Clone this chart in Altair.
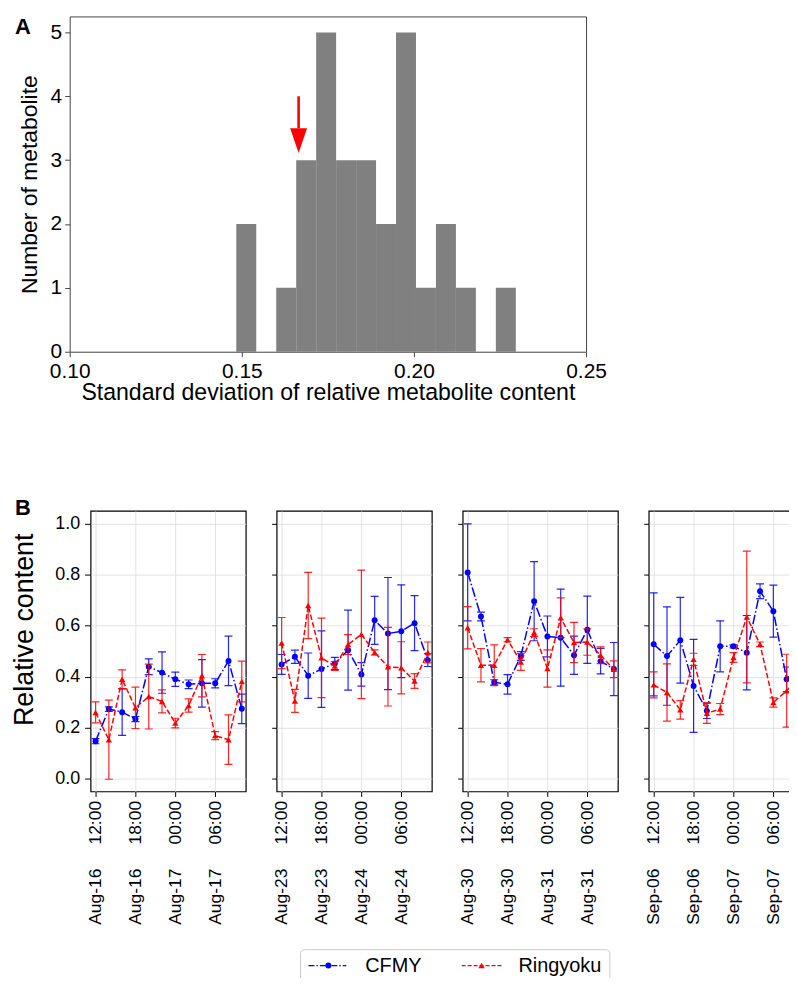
import altair as alt
import pandas as pd

# ---------------- Panel A : histogram ----------------
bin_lo = [0.1484, 0.1542, 0.1600, 0.1658, 0.1716, 0.1774, 0.1832,
          0.1890, 0.1948, 0.2006, 0.2064, 0.2122, 0.2180, 0.2238]
bin_hi = [0.1542, 0.1600, 0.1658, 0.1716, 0.1774, 0.1832, 0.1890,
          0.1948, 0.2006, 0.2064, 0.2122, 0.2180, 0.2238, 0.2296]
bin_count = [2, 0, 1, 3, 5, 3, 3, 2, 5, 1, 2, 1, 0, 1]
x_ticks_a = [0.10, 0.15, 0.20, 0.25]
y_ticks_a = [0, 1, 2, 3, 4, 5]

arrow_x = 0.1665
arrow_tail = 4.0
arrow_head_top = 3.50
arrow_tip = 3.11

# ---------------- Panel B : time series ----------------
series_names = ["CFMY", "Ringyoku"]
start_days = [(2019, 8, 16), (2019, 8, 23), (2019, 8, 30), (2019, 9, 6)]
slot_hours = [12, 14, 16, 18, 20, 22, 0, 2, 4, 6, 8, 10]
slot_day = [0, 0, 0, 0, 0, 0, 1, 1, 1, 1, 1, 1]
y_ticks_b = [0.0, 0.2, 0.4, 0.6, 0.8, 1.0]

cfmy_mean = [
    [0.147, 0.273, 0.261, 0.234, 0.439, 0.416, 0.390, 0.370, 0.374, 0.374, 0.462, 0.274],
    [0.448, 0.478, 0.404, 0.430, 0.452, 0.504, 0.409, 0.621, 0.569, 0.578, 0.610, 0.465],
    [0.809, 0.636, 0.378, 0.370, 0.481, 0.696, 0.558, 0.553, 0.484, 0.584, 0.461, 0.430],
    [0.527, 0.481, 0.543, 0.364, 0.266, 0.519, 0.519, 0.494, 0.735, 0.657, 0.390, 0.450],
]
cfmy_err = [
    [0.010, 0.009, 0.091, 0.010, 0.031, 0.081, 0.028, 0.017, 0.093, 0.018, 0.097, 0.058],
    [0.039, 0.026, 0.089, 0.150, 0.024, 0.157, 0.046, 0.094, 0.220, 0.182, 0.108, 0.025],
    [0.190, 0.017, 0.010, 0.038, 0.017, 0.155, 0.080, 0.190, 0.075, 0.132, 0.050, 0.104],
    [0.202, 0.193, 0.168, 0.182, 0.030, 0.100, 0.006, 0.146, 0.029, 0.102, 0.048, 0.080],
]
ring_mean = [
    [0.260, 0.153, 0.390, 0.278, 0.322, 0.303, 0.218, 0.287, 0.404, 0.169, 0.153, 0.381],
    [0.532, 0.305, 0.679, 0.474, 0.442, 0.526, 0.566, 0.495, 0.439, 0.435, 0.383, 0.495],
    [0.592, 0.445, 0.445, 0.545, 0.458, 0.573, 0.432, 0.631, 0.534, 0.536, 0.484, 0.429],
    [0.368, 0.338, 0.270, 0.468, 0.257, 0.273, 0.475, 0.634, 0.527, 0.299, 0.345, 0.400],
]
ring_err = [
    [0.041, 0.155, 0.037, 0.081, 0.127, 0.045, 0.019, 0.026, 0.083, 0.016, 0.097, 0.080],
    [0.100, 0.045, 0.130, 0.156, 0.017, 0.039, 0.252, 0.010, 0.154, 0.102, 0.029, 0.041],
    [0.083, 0.065, 0.080, 0.008, 0.033, 0.015, 0.073, 0.078, 0.079, 0.052, 0.033, 0.033],
    [0.051, 0.112, 0.036, 0.024, 0.040, 0.022, 0.019, 0.258, 0.009, 0.018, 0.143, 0.080],
]

FONT = "Liberation Sans"
BLUE = "#0000ff"
RED = "#ff0000"

# ================= Panel A =================
hist_df = pd.DataFrame({"lo": bin_lo, "hi": bin_hi, "count": bin_count})
hist_df = hist_df[hist_df["count"] > 0]

xa_scale = alt.Scale(domain=[0.10, 0.25], nice=False, zero=False)
ya_scale = alt.Scale(domain=[0, 5.25], nice=False)
xa_axis = alt.Axis(values=x_ticks_a, format=".2f", labelFontSize=21, tickSize=5,
                   labelPadding=4, title="Standard deviation of relative metabolite content",
                   titleFontSize=23.2, titleFontWeight="normal", titlePadding=0,
                   grid=False, domain=False, labelFlush=False, tickColor="#444444")
ya_axis = alt.Axis(values=y_ticks_a, format="d", labelFontSize=21, tickSize=5,
                   labelPadding=3, title="Number of metabolite", titleFontSize=23,
                   titleFontWeight="normal", titlePadding=9, grid=False, domain=False,
                   tickColor="#444444")

bars = alt.Chart(hist_df).mark_rect(color="#808080").encode(
    x=alt.X("lo:Q", scale=xa_scale, axis=xa_axis),
    x2="hi:Q",
    y=alt.Y("count:Q", scale=ya_scale, axis=ya_axis),
    y2=alt.datum(0),
)

arrow_df = pd.DataFrame({"x": [arrow_x], "tail": [arrow_tail], "htop": [arrow_head_top],
                         "tip": [arrow_tip]})
arrow_df["hmid"] = (arrow_df["htop"] + arrow_df["tip"]) / 2
shaft = alt.Chart(arrow_df).mark_rule(color=RED, strokeWidth=2.6).encode(
    x=alt.X("x:Q", scale=xa_scale, axis=xa_axis),
    y=alt.Y("tail:Q", scale=ya_scale, axis=ya_axis),
    y2=alt.Y2("htop:Q"),
)
head = alt.Chart(arrow_df).mark_point(
    shape="M-0.68,-1L0.68,-1L0,1Z", filled=True, size=625, color=RED, opacity=1
).encode(
    x=alt.X("x:Q", scale=xa_scale, axis=xa_axis),
    y=alt.Y("hmid:Q", scale=ya_scale, axis=ya_axis),
)
label_a = alt.Chart(alt.Data(values=[{"p": "A"}])).mark_text(
    align="left", baseline="alphabetic", fontSize=22, fontWeight="bold", color="black"
).encode(text="p:N", x=alt.value(-55), y=alt.value(18))

panel_a = alt.layer(bars, shaft, head, label_a).properties(
    width=519, height=337,
    view=alt.ViewBackground(stroke="#444444", strokeWidth=1),
)

# ================= Panel B =================
NB = "\u00a0" * 5
FMT = "%b-%d" + NB + "%H:%M"


def dt(ts):
    return alt.DateTime(year=ts.year, month=ts.month, date=ts.day,
                        hours=ts.hour, minutes=ts.minute)


def subplot(i):
    y0, m0, d0 = start_days[i]
    t0 = pd.Timestamp(y0, m0, d0)
    times = [(t0 + pd.Timedelta(days=o, hours=h)).strftime("%Y-%m-%dT%H:%M:%S")
             for o, h in zip(slot_day, slot_hours)]
    dom = [t0 + pd.Timedelta(hours=11, minutes=15),
           t0 + pd.Timedelta(days=1, hours=10, minutes=36)]
    ticks = [t0 + pd.Timedelta(hours=12), t0 + pd.Timedelta(hours=18),
             t0 + pd.Timedelta(days=1), t0 + pd.Timedelta(days=1, hours=6)]

    xscale = alt.Scale(domain=[dt(d) for d in dom], nice=False)
    yscale = alt.Scale(domain=[-0.05, 1.05], nice=False, zero=False)
    xaxis = alt.Axis(values=[dt(t) for t in ticks], format=FMT, labelAngle=-90,
                     labelFontSize=17.5, tickSize=5, labelPadding=4, grid=True,
                     gridColor="#dcdcdc", gridWidth=0.8, domain=False, title=None,
                     labelFlush=False, labelOverlap=False, tickColor="black",
                     labelColor="black")
    if i == 0:
        yaxis = alt.Axis(values=y_ticks_b, format=".1f", labelFontSize=18, tickSize=6,
                         labelPadding=5, title="Relative content", titleFontSize=27,
                         titleFontWeight="normal", titlePadding=16, titleY=119,
                         grid=True, gridColor="#dcdcdc", gridWidth=0.8, domain=False,
                         tickColor="black", labelColor="black")
    else:
        yaxis = alt.Axis(values=y_ticks_b, labels=False, tickSize=5, title=None,
                         grid=True, gridColor="#dcdcdc", gridWidth=0.8, domain=False,
                         tickColor="black")

    layers = []
    specs = [
        (series_names[0], cfmy_mean[i], cfmy_err[i], BLUE, "circle", 36, [9.6, 2.4, 1.5, 2.4]),
        (series_names[1], ring_mean[i], ring_err[i], RED, "triangle-up", 40, [5.5, 2.4]),
    ]
    for name, mean, err, color, shape, size, dash in specs:
        df = pd.DataFrame({"t": times, "mean": mean, "err": err})
        df["lo"] = df["mean"] - df["err"]
        df["hi"] = df["mean"] + df["err"]
        df["series"] = name
        base = alt.Chart(df)
        X = alt.X("t:T", scale=xscale, axis=xaxis)
        line = base.mark_line(color=color, strokeWidth=1.5, strokeDash=dash, clip=True).encode(
            x=X, y=alt.Y("mean:Q", scale=yscale, axis=yaxis))
        bar = base.mark_rule(color=color, strokeWidth=1.2, opacity=0.85, clip=True).encode(
            x=X, y=alt.Y("lo:Q", scale=yscale, axis=yaxis), y2="hi:Q")
        cap_lo = base.mark_rule(color=color, strokeWidth=1.2, opacity=0.85, clip=True,
                                xOffset=-4, x2Offset=4).encode(
            x=X, x2="t:T", y=alt.Y("lo:Q", scale=yscale, axis=yaxis))
        cap_hi = base.mark_rule(color=color, strokeWidth=1.2, opacity=0.85, clip=True,
                                xOffset=-4, x2Offset=4).encode(
            x=X, x2="t:T", y=alt.Y("hi:Q", scale=yscale, axis=yaxis))
        pts = base.mark_point(color=color, filled=True, shape=shape, size=size,
                              opacity=1, clip=True).encode(
            x=X, y=alt.Y("mean:Q", scale=yscale, axis=yaxis))
        layers += [line, bar, cap_lo, cap_hi, pts]

    if i == 0:
        layers.append(alt.Chart(alt.Data(values=[{"p": "B"}])).mark_text(
            align="left", baseline="alphabetic", fontSize=22, fontWeight="bold",
            color="black").encode(text="p:N", x=alt.value(-76), y=alt.value(4)))

    if i == 1:
        one = alt.Data(values=[{"k": 0}])
        box = alt.Chart(one).mark_rect(fill="white", stroke="#cccccc", strokeWidth=1,
                                       cornerRadius=4).encode(
            x=alt.value(24), x2=alt.value(335), y=alt.value(441), y2=alt.value(477))
        layers.append(box)
        leg = [
            (series_names[0], BLUE, "circle", 36, [6, 2, 1.5, 2], 32, 70, 52, 89),
            (series_names[1], RED, "triangle-up", 40, [4, 2], 186, 227, 206, 243),
        ]
        for name, color, shape, size, dash, x1, x2, xm, xt in leg:
            d = alt.Data(values=[{"series": name}])
            layers.append(alt.Chart(d).mark_rule(color=color, strokeWidth=1.3,
                                                 strokeDash=dash).encode(
                x=alt.value(x1), x2=alt.value(x2), y=alt.value(457)))
            layers.append(alt.Chart(d).mark_point(color=color, filled=True, shape=shape,
                                                  size=size, opacity=1).encode(
                x=alt.value(xm), y=alt.value(457)))
            layers.append(alt.Chart(d).mark_text(align="left", baseline="middle",
                                                 fontSize=20, color="black").encode(
                text="series:N", x=alt.value(xt), y=alt.value(457)))

    return alt.layer(*layers).properties(
        width=156, height=282,
        view=alt.ViewBackground(stroke="black", strokeWidth=1.2),
    )


inner_b = alt.hconcat(*[subplot(i) for i in range(4)], spacing=31, bounds="flush").resolve_scale(
    x="independent", y="independent")

spacer = alt.Chart(alt.Data(values=[{"k": 0}])).mark_point(opacity=0, size=1).encode(
    x=alt.value(0), y=alt.value(0)
).properties(width=1, height=282, view=alt.ViewBackground(stroke="transparent"))

panel_b = alt.hconcat(spacer, inner_b, spacing=20, bounds="flush")

chart = alt.vconcat(panel_a, panel_b, spacing=92).properties(
    padding={"left": 2, "top": 5, "right": -16, "bottom": -12}
).configure(font=FONT).configure_axis(labelColor="black", titleColor="black")

chart.save("out.html", embed_options={"renderer": "svg", "actions": False})
